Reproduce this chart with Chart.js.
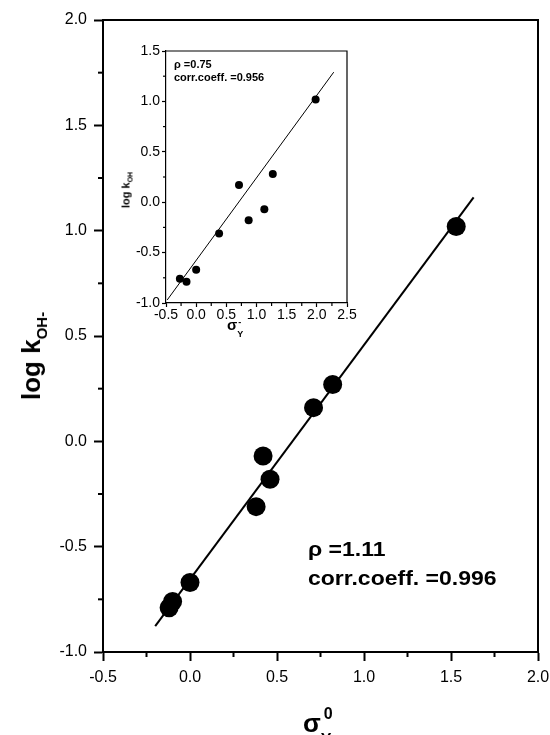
<!DOCTYPE html>
<html>
<head>
<meta charset="utf-8">
<script src="https://cdn.jsdelivr.net/npm/chart.js@4.4.1/dist/chart.umd.min.js"></script>
<style>
body{margin:0;background:#fff;}
#wrap{position:relative;width:550px;height:735px;overflow:hidden;font-family:"Liberation Sans",Arial,sans-serif;color:#000;}
#main_chart{position:absolute;left:0;top:0;width:550px;height:735px;}
#inset_chart{position:absolute;left:110px;top:35px;width:250px;height:300px;}
.lbl{position:absolute;white-space:nowrap;font-weight:bold;line-height:1;}
.ss{position:relative;display:inline-block;height:1em;}
.ss span{position:absolute;}
</style>
</head>
<body>
<div id="wrap">
  <canvas id="main_chart" width="550" height="735"></canvas>
  <canvas id="inset_chart" width="250" height="300"></canvas>

  <!-- main axis titles -->
  <div class="lbl" style="left:31px;top:356px;font-size:26px;transform:translate(-50%,-50%) rotate(-90deg);">log k<span style="font-size:15px;position:relative;top:7px;">OH-</span></div>
  <div class="lbl" style="left:303px;top:710px;font-size:26px;">σ<span class="ss" style="width:14px;font-size:16px;"><span style="left:3px;top:-10px;">0</span><span style="left:0px;top:16px;">Y</span></span></div>

  <!-- main fit text -->
  <div class="lbl" style="left:308px;top:539px;font-size:20px;transform:scaleX(1.15);transform-origin:left;">ρ =1.11</div>
  <div class="lbl" style="left:308px;top:568px;font-size:20px;transform:scaleX(1.15);transform-origin:left;">corr.coeff. =0.996</div>

  <!-- inset titles -->
  <div class="lbl" style="left:126px;top:190px;font-size:11px;transform:translate(-50%,-50%) rotate(-90deg);">log k<span style="font-size:7px;position:relative;top:3px;">OH</span></div>
  <div class="lbl" style="left:227px;top:317px;font-size:15px;">σ<span class="ss" style="width:8px;font-size:9px;"><span style="left:1px;top:-3px;">-</span><span style="left:0px;top:9px;">Y</span></span></div>

  <!-- inset fit text -->
  <div class="lbl" style="left:174px;top:60px;font-size:10px;transform:scaleX(1.1);transform-origin:left;">ρ =0.75</div>
  <div class="lbl" style="left:174px;top:73px;font-size:10px;transform:scaleX(1.1);transform-origin:left;">corr.coeff. =0.956</div>
</div>

<script>
/* DATA */
// main plot : sigma_Y^0 vs log k(OH-)
let main_sigma=[-0.12,-0.10,0.00,0.38,0.42,0.46,0.71,0.82,1.53];
let main_logk=[-0.79,-0.76,-0.67,-0.31,-0.07,-0.18,0.16,0.27,1.02];
// fitted line ends
let main_fit_x=[-0.20,1.63];
let main_fit_y=[-0.877,1.158];

// inset : sigma_Y^- vs log k(OH)
let inset_sigma=[-0.27,-0.16,0.00,0.38,0.71,0.87,1.13,1.27,1.98];
let inset_logk=[-0.76,-0.79,-0.67,-0.31,0.17,-0.18,-0.07,0.28,1.02];
let inset_fit_x=[-0.48,2.28];
let inset_fit_y=[-0.97,1.29];

let main_x_range=[-0.5,2.0];
let main_y_range=[-1.0,2.0];
let inset_x_range=[-0.5,2.5];
let inset_y_range=[-1.0,1.5];

/* HELPERS */
function to_points(xs,ys){
  return xs.map((x,i)=>({x:x,y:ys[i]}));
}
function is_major(v){
  return Math.abs(v*2-Math.round(v*2))<1e-6;
}

// top/right frame + minor ticks
const frame_plugin={
  id:'frame_minor',
  afterDraw(chart,args,opts){
    const ctx=chart.ctx;
    const a=chart.chartArea;
    ctx.save();
    ctx.strokeStyle='#000';
    ctx.lineWidth=opts.width;
    ctx.beginPath();
    ctx.moveTo(a.left,a.top);ctx.lineTo(a.right,a.top);ctx.lineTo(a.right,a.bottom);
    ctx.stroke();
    // minor ticks
    ['x','y'].forEach(id=>{
      const s=chart.scales[id];
      for(let v=s.min;v<=s.max+1e-9;v+=0.25){
        if(is_major(v)) continue;
        const p=s.getPixelForValue(v);
        ctx.beginPath();
        if(id==='x'){ctx.moveTo(p,a.bottom);ctx.lineTo(p,a.bottom+opts.minorLen);}
        else{ctx.moveTo(a.left,p);ctx.lineTo(a.left-opts.minorLen,p);}
        ctx.stroke();
      }
    });
    ctx.restore();
  }
};

function make_axis(range,font_size,tick_len,pad,line_w,size_key,size_val){
  return {
    type:'linear',
    min:range[0],
    max:range[1],
    ticks:{
      stepSize:0.25,
      autoSkip:false,
      maxRotation:0,
      padding:pad,
      color:'#000',
      font:{family:'"Liberation Sans", Arial, sans-serif',size:font_size},
      callback:v=>is_major(v)?v.toFixed(1):''
    },
    grid:{
      drawOnChartArea:false,
      tickLength:tick_len,
      tickWidth:line_w,
      tickColor:c=>is_major(c.tick.value)?'#000':'rgba(0,0,0,0)'
    },
    border:{display:true,color:'#000',width:line_w},
    afterFit:s=>{
      s[size_key]=size_val;
      // let end labels hang over the edge like the original
      s.paddingLeft=0;s.paddingRight=0;s.paddingTop=0;s.paddingBottom=0;
    }
  };
}

/* MAIN CHART */
const main_ctx=document.getElementById('main_chart').getContext('2d');
const main_chart=new Chart(main_ctx,{
  type:'scatter',
  data:{
    datasets:[
      {
        data:to_points(main_sigma,main_logk),
        pointRadius:9.5,
        pointBackgroundColor:'#000',
        pointBorderWidth:0
      },
      {
        data:to_points(main_fit_x,main_fit_y),
        showLine:true,
        pointRadius:0,
        borderColor:'#000',
        borderWidth:2
      }
    ]
  },
  options:{
    responsive:false,
    animation:false,
    layout:{padding:{top:20,right:12,bottom:0,left:0}},
    plugins:{legend:{display:false},tooltip:{enabled:false},frame_minor:{width:2,minorLen:5}},
    scales:{
      x:make_axis(main_x_range,16,9,7,2,'height',83),
      y:make_axis(main_y_range,16,9,7,2,'width',103)
    }
  },
  plugins:[frame_plugin]
});

/* INSET CHART */
const inset_ctx=document.getElementById('inset_chart').getContext('2d');
const inset_chart=new Chart(inset_ctx,{
  type:'scatter',
  data:{
    datasets:[
      {
        data:to_points(inset_sigma,inset_logk),
        pointRadius:4,
        pointBackgroundColor:'#000',
        pointBorderWidth:0
      },
      {
        data:to_points(inset_fit_x,inset_fit_y),
        showLine:true,
        pointRadius:0,
        borderColor:'#000',
        borderWidth:1
      }
    ]
  },
  options:{
    responsive:false,
    animation:false,
    layout:{padding:{top:16,right:13,bottom:0,left:0}},
    plugins:{legend:{display:false},tooltip:{enabled:false},frame_minor:{width:1.2,minorLen:3}},
    scales:{
      x:make_axis(inset_x_range,14,4,0,1.2,'height',32),
      y:make_axis(inset_y_range,14,4,2,1.2,'width',56)
    }
  },
  plugins:[frame_plugin]
});
</script>
</body>
</html>
